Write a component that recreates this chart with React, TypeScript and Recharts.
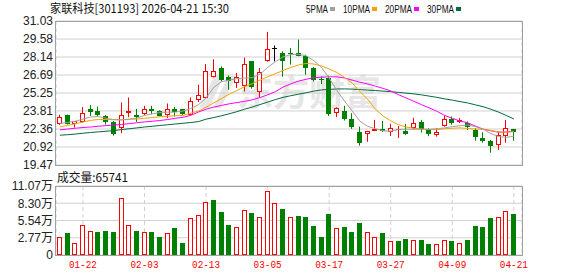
import { ComposedChart, Bar, Line, XAxis, YAxis, CartesianGrid } from 'recharts'

const dates = [
  '01-19', '01-20', '01-21', '01-22', '01-23', '01-26', '01-27', '01-28', '01-29', '01-30',
  '02-02', '02-03', '02-04', '02-05', '02-06', '02-09', '02-10', '02-11', '02-12', '02-13',
  '02-24', '02-25', '02-26', '02-27', '03-02', '03-03', '03-04', '03-05', '03-06', '03-09',
  '03-10', '03-11', '03-12', '03-13', '03-16', '03-17', '03-18', '03-19', '03-20', '03-23',
  '03-24', '03-25', '03-26', '03-27', '03-30', '03-31', '04-01', '04-02', '04-03', '04-07',
  '04-08', '04-09', '04-10', '04-13', '04-14', '04-15', '04-16', '04-17', '04-20', '04-21',
]

const opens = [
  22.79, 23.5, 22.75, 22.93, 23.95, 23.84, 23.41, 22.96, 22.42, 23.63,
  23.5, 23.55, 23.98, 23.82, 23.52, 23.98, 23.95, 23.5, 24.65, 24.84,
  26.56, 27.26, 26.53, 26.05, 25.83, 27.79, 25.37, 27.79, 28.85, 28.44,
  28.49, 28.5, 28.19, 27.26, 26.36, 26.45, 23.63, 23.84, 23.17, 22.15,
  21.96, 22.23, 22.4, 22.1, 22.33, 22.21, 22.47, 22.93, 22.34, 21.86,
  22.63, 23.15, 22.91, 22.88, 22.26, 21.64, 21.4, 21.05, 21.83, 22.37,
]
const highs = [
  23.5, 23.52, 23.0, 24.12, 24.28, 24.16, 23.47, 23.0, 24.49, 24.89,
  23.98, 24.22, 24.22, 23.85, 24.41, 24.14, 23.98, 24.89, 25.91, 27.58,
  27.95, 27.39, 26.66, 26.86, 28.09, 27.82, 27.26, 30.16, 29.06, 28.6,
  28.87, 29.54, 28.33, 27.33, 26.58, 26.64, 24.1, 24.22, 23.63, 22.55,
  22.21, 23.09, 23.0, 22.77, 22.6, 22.77, 23.25, 23.09, 22.42, 22.42,
  23.41, 23.36, 23.23, 22.96, 22.42, 22.1, 21.48, 22.15, 23.09, 22.37,
]
const lows = [
  22.69, 22.72, 22.47, 22.88, 23.41, 23.41, 22.72, 21.83, 22.02, 23.31,
  22.93, 23.47, 23.55, 23.38, 23.23, 23.36, 23.5, 23.44, 24.52, 24.8,
  26.5, 26.18, 25.51, 25.65, 25.37, 25.59, 24.89, 27.76, 27.79, 26.56,
  27.53, 28.2, 26.72, 26.18, 25.97, 23.4, 23.31, 23.04, 22.37, 21.02,
  21.34, 22.2, 22.12, 21.8, 21.64, 21.88, 22.34, 22.07, 21.78, 21.75,
  22.55, 22.71, 22.83, 22.29, 21.42, 21.26, 20.46, 20.68, 21.26, 21.42,
]
const closes = [
  23.31, 22.77, 22.99, 23.63, 23.71, 23.52, 22.91, 21.96, 23.47, 23.82,
  23.31, 23.95, 23.82, 23.41, 23.95, 23.76, 23.55, 24.57, 25.11, 27.05,
  27.0, 26.29, 26.24, 26.5, 27.58, 25.7, 26.94, 28.8, 28.85, 27.79,
  28.35, 28.25, 27.26, 26.32, 26.3, 23.58, 24.08, 23.2, 22.53, 21.26,
  22.21, 22.38, 22.17, 22.42, 22.35, 21.99, 22.83, 22.34, 21.94, 22.13,
  23.17, 22.88, 23.07, 22.55, 21.75, 21.42, 21.02, 21.88, 22.42, 22.1,
]

// 成交量, in 万手
const volumes = [
  2.89, 3.53, 1.92, 4.81, 3.85, 3.69, 3.85, 3.69, 9.14, 4.81,
  3.85, 3.69, 3.69, 2.93, 3.48, 4.38, 1.92, 5.93, 6.41, 8.45,
  8.87, 6.9, 4.81, 4.49, 7.22, 6.73, 6.09, 10.26, 8.34, 7.38,
  6.09, 6.25, 6.09, 4.65, 2.89, 6.57, 4.33, 4.49, 3.69, 5.13,
  3.69, 2.89, 3.53, 2.25, 2.25, 2.57, 2.41, 2.41, 1.76, 1.76,
  2.41, 2.25, 1.92, 2.41, 4.65, 4.49, 5.93, 6.09, 7.06, 6.5741,
]

const ma5 = [
  22.8, 22.88, 22.98, 23.15, 23.32, 23.36, 23.22, 23.12, 23.09, 23.15,
  23.23, 23.45, 23.58, 23.68, 23.71, 23.71, 23.8, 24.0, 24.3, 24.85,
  25.7, 26.15, 26.28, 26.4, 26.45, 26.48, 26.75, 27.3, 27.75, 28.15,
  28.33, 28.35, 28.25, 27.85, 27.3, 26.45, 25.45, 24.6, 23.8, 22.98,
  22.58, 22.38, 22.22, 22.18, 22.32, 22.34, 22.34, 22.34, 22.33, 22.38,
  22.45, 22.55, 22.62, 22.68, 22.55, 22.35, 22.0, 21.75, 21.7, 21.77,
]
const ma10 = [
  22.53, 22.65, 22.78, 22.92, 23.05, 23.13, 23.12, 23.1, 23.1, 23.14,
  23.16, 23.22, 23.28, 23.34, 23.38, 23.42, 23.45, 23.62, 23.8, 24.1,
  24.45, 24.8, 25.15, 25.45, 25.75, 26.0, 26.28, 26.55, 26.8, 27.05,
  27.3, 27.5, 27.62, 27.58, 27.42, 27.18, 26.9, 26.5, 26.05, 25.35,
  24.75, 23.95, 23.4, 23.02, 22.7, 22.52, 22.42, 22.36, 22.32, 22.32,
  22.38, 22.42, 22.45, 22.4, 22.36, 22.32, 22.25, 22.12, 22.1, 22.15,
]
const ma20 = [
  22.29, 22.36, 22.42, 22.48, 22.52, 22.58, 22.63, 22.68, 22.72, 22.79,
  22.86, 22.93, 22.98, 23.04, 23.12, 23.22, 23.3, 23.45, 23.72, 23.95,
  24.12, 24.25, 24.38, 24.48, 24.58, 24.7, 24.88, 25.1, 25.35, 25.72,
  25.98, 26.2, 26.35, 26.48, 26.52, 26.55, 26.55, 26.45, 26.28, 26.12,
  25.97, 25.8, 25.62, 25.42, 25.12, 24.85, 24.58, 24.32, 24.05, 23.78,
  23.45, 23.22, 23.0, 22.85, 22.6, 22.35, 22.22, 22.1, 22.12, 22.18,
]
const ma30 = [
  21.86, 21.9, 21.95, 22.02, 22.08, 22.13, 22.18, 22.23, 22.31, 22.38,
  22.45, 22.52, 22.58, 22.64, 22.7, 22.76, 22.82, 22.88, 22.95, 23.15,
  23.28, 23.42, 23.58, 23.75, 23.95, 24.12, 24.32, 24.52, 24.72, 24.9,
  25.03, 25.15, 25.27, 25.4, 25.5, 25.54, 25.57, 25.58, 25.56, 25.52,
  25.48, 25.45, 25.4, 25.36, 25.3, 25.24, 25.18, 25.1, 25.0, 24.9,
  24.78, 24.68, 24.56, 24.45, 24.3, 24.15, 23.95, 23.72, 23.45, 23.17,
]

const priceTicks = [19.47, 20.92, 22.36, 23.81, 25.25, 26.69, 28.14, 29.58, 31.03]
const volumeTicks = [0, 2.77, 5.54, 8.3, 11.07]
const labelDates = ['01-22', '02-03', '02-13', '03-05', '03-17', '03-27', '04-09', '04-21']
const maLabels = ['5PMA', '10PMA', '20PMA', '30PMA']

const RED = '#ff0000'
const GREEN = '#008000'
const MA_COLORS = ['#a0a0a0', '#f5a300', '#ff00ff', '#006b3a']
const GRID = '#d0d0d0'
const FRAME = '#a0a0a0'
const AXIS_FONT = "'Liberation Sans', Arial, 'Noto Sans CJK SC', sans-serif"
const CJK_FONT = "'Noto Sans CJK SC', sans-serif"

const data = dates.map((date, i) => ({
  date,
  open: opens[i],
  high: highs[i],
  low: lows[i],
  close: closes[i],
  range: [lows[i], highs[i]],
  vol: volumes[i],
  // volume bars follow the change against the previous close
  volUp: i === 0 ? closes[i] >= opens[i] : closes[i] >= closes[i - 1],
  ma5: ma5[i],
  ma10: ma10[i],
  ma20: ma20[i],
  ma30: ma30[i],
}))

function Candle(props: any) {
  const { x, y, width, height, payload } = props
  const { open, close, high, low } = payload
  const top = Math.min(y, y + height)
  const h = Math.abs(height)
  const span = high - low || 1
  const py = (v: number) => top + ((high - v) / span) * h
  const left = Math.round(x + width / 2 - 2.5)
  const mid = left + 2.5
  const color = close > open ? RED : close < open ? GREEN : '#000'
  const bTop = Math.round(py(Math.max(open, close)))
  const bBot = Math.round(py(Math.min(open, close)))
  let body
  if (close === open) {
    body = <line x1={left} x2={left + 5} y1={bTop + 0.5} y2={bTop + 0.5} stroke={color} />
  } else if (close > open && bBot - bTop > 2) {
    body = <rect x={left + 0.5} y={bTop + 0.5} width={4} height={bBot - bTop - 1} fill="#fff" stroke={color} />
  } else {
    body = <rect x={left} y={bTop} width={5} height={Math.max(bBot - bTop, 1)} fill={color} />
  }
  return (
    <g>
      <line x1={mid} x2={mid} y1={py(high)} y2={py(low)} stroke={color} />
      {body}
    </g>
  )
}

function VolumeBar(props: any) {
  const { x, y, width, height, payload } = props
  const left = Math.round(x + width / 2 - 2.5)
  const top = Math.round(y)
  const bottom = Math.round(y + height)
  if (payload.volUp) {
    return <rect x={left + 0.5} y={top + 0.5} width={4} height={bottom - top - 1} fill="#fff" stroke={RED} />
  }
  return <rect x={left} y={top} width={5} height={bottom - top} fill={GREEN} />
}

function DateTick({ x, y, payload }: any) {
  return (
    <text
      x={x}
      y={y + 13}
      textAnchor="middle"
      fill={RED}
      fontSize={11}
      fontFamily="'Liberation Mono', monospace"
      textLength={28}
      lengthAdjust="spacingAndGlyphs"
    >
      {payload.value}
    </text>
  )
}

const frame = (top: number, height: number) => ({
  position: 'absolute' as const,
  left: 55,
  top,
  width: 468,
  height,
  boxSizing: 'border-box' as const,
  border: `1px solid ${FRAME}`,
  pointerEvents: 'none' as const,
})

export default function App() {
  const lastVolume = Math.round(volumes[volumes.length - 1] * 10000)
  const legendX = [306, 343, 385, 427]
  const legendW = [22, 27, 27, 27]

  return (
    <div style={{ position: 'relative', width: 578, height: 276, background: '#fff', overflow: 'hidden' }}>
      <style>{'body{margin:0}'}</style>

      {/* watermark */}
      <svg width={578} height={276} style={{ position: 'absolute', left: 0, top: 0 }}>
        <polygon points="214,76 224,76 209,108 199,108" fill="#e6e6e6" />
        <polygon points="228,76 236,76 221,108 213,108" fill="#e6e6e6" />
        <text x={237} y={106} fontSize={36} fontWeight={700} fill="#e6e6e6" fontFamily={CJK_FONT}>
          东方财富
        </text>
      </svg>

      <div style={{ position: 'absolute', left: 0, top: 0 }}>
        <ComposedChart width={578} height={176} data={data} margin={{ top: 21, right: 56, bottom: 11, left: 0 }}>
          <CartesianGrid vertical={false} stroke={GRID} />
          <CartesianGrid horizontal={false} stroke={GRID} strokeDasharray="4 3" />
          <XAxis
            dataKey="date"
            ticks={labelDates}
            interval={0}
            tick={false}
            tickLine={false}
            axisLine={false}
            height={0}
            padding={{ left: 0, right: 4.3 }}
          />
          <YAxis
            type="number"
            domain={[19.47, 31.03]}
            ticks={priceTicks}
            interval={0}
            allowDataOverflow
            width={56}
            tickLine={false}
            axisLine={false}
            tickSize={0}
            tickMargin={3}
            tickFormatter={(v: number) => v.toFixed(2)}
            tick={{ fontSize: 12, fill: '#222', fontFamily: AXIS_FONT }}
          />
          {(['ma30', 'ma20', 'ma10', 'ma5'] as const).map((key) => (
            <Line
              key={key}
              dataKey={key}
              type="linear"
              stroke={MA_COLORS[['ma5', 'ma10', 'ma20', 'ma30'].indexOf(key)]}
              strokeWidth={1}
              dot={false}
              activeDot={false}
              isAnimationActive={false}
            />
          ))}
          <Bar dataKey="range" barSize={5} shape={Candle} isAnimationActive={false} />
        </ComposedChart>
      </div>

      <div style={{ position: 'absolute', left: 0, top: 165 }}>
        <ComposedChart width={578} height={111} data={data} margin={{ top: 21, right: 56, bottom: 0, left: 0 }}>
          <CartesianGrid vertical={false} stroke={GRID} />
          <CartesianGrid horizontal={false} stroke={GRID} strokeDasharray="4 3" />
          <XAxis
            dataKey="date"
            ticks={labelDates}
            interval={0}
            tickLine={false}
            axisLine={false}
            tickSize={0}
            tickMargin={0}
            height={21}
            tick={<DateTick />}
            padding={{ left: 0, right: 4.3 }}
          />
          <YAxis
            type="number"
            domain={[0, 11.07]}
            ticks={volumeTicks}
            interval={0}
            allowDataOverflow
            width={56}
            tickLine={false}
            axisLine={false}
            tickSize={0}
            tickMargin={3}
            tickFormatter={(v: number) => (v === 0 ? '0' : `${v.toFixed(2)}万`)}
            tick={{ fontSize: 12, fill: '#222', fontFamily: AXIS_FONT }}
          />
          <Bar dataKey="vol" barSize={5} shape={VolumeBar} isAnimationActive={false} />
        </ComposedChart>
      </div>

      <div style={frame(21, 145)} />
      <div style={frame(186, 70)} />

      <svg width={578} height={190} style={{ position: 'absolute', left: 0, top: 0, pointerEvents: 'none' }}>
        <text
          x={50}
          y={12.5}
          fontSize={12}
          fill="#111"
          fontFamily={CJK_FONT}
          textLength={179}
          lengthAdjust="spacingAndGlyphs"
        >
          家联科技[301193] 2026-04-21 15:30
        </text>
        {maLabels.map((label, i) => (
          <g key={label}>
            <text
              x={legendX[i]}
              y={12.5}
              fontSize={11}
              fill="#111"
              fontFamily={AXIS_FONT}
              textLength={legendW[i]}
              lengthAdjust="spacingAndGlyphs"
            >
              {label}
            </text>
            <rect x={legendX[i] + legendW[i] + 2} y={7} width={5} height={4} fill={MA_COLORS[i]} />
          </g>
        ))}
        <text
          x={57}
          y={182}
          fontSize={12}
          fill="#111"
          fontFamily={CJK_FONT}
          textLength={71}
          lengthAdjust="spacingAndGlyphs"
        >
          成交量:{lastVolume}
        </text>
      </svg>
    </div>
  )
}
